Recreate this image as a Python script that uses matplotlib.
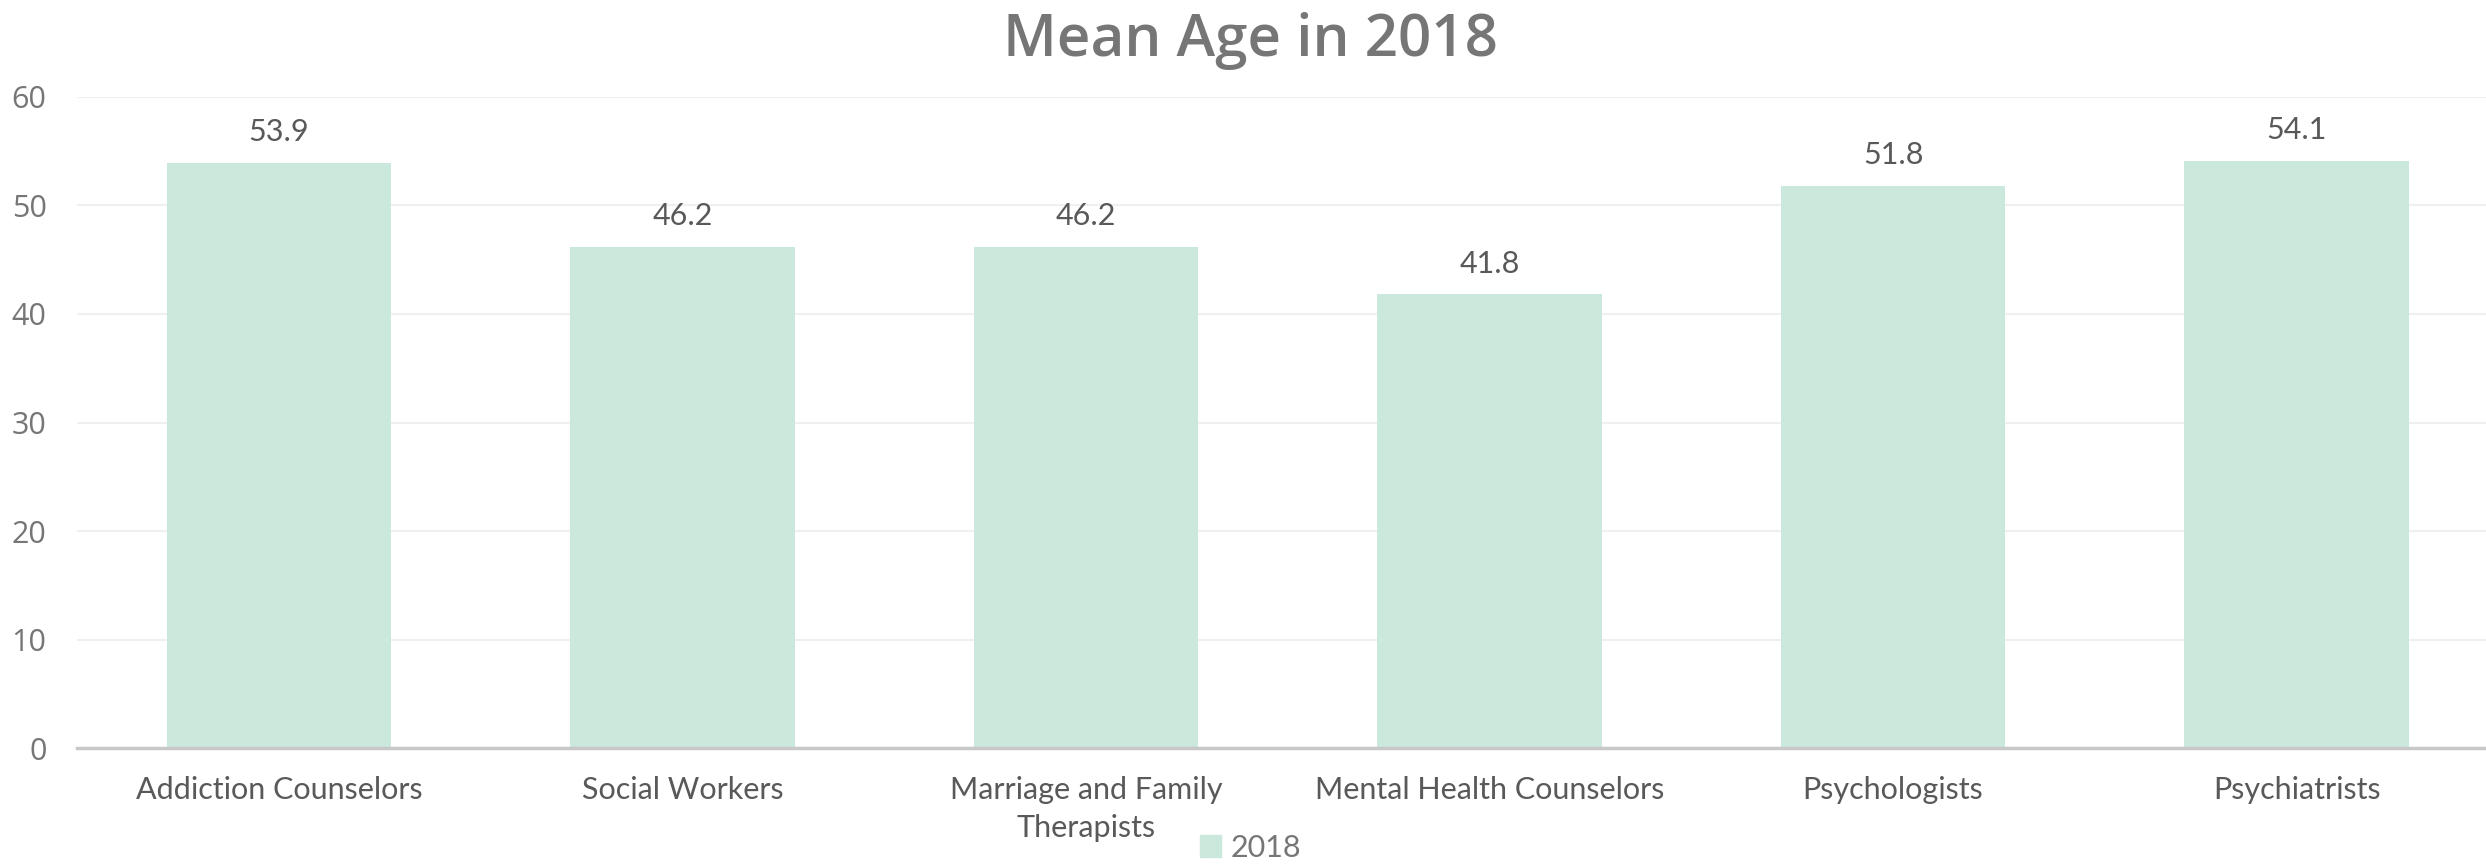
import matplotlib
matplotlib.use('Agg')
import matplotlib.pyplot as plt
from matplotlib.patches import Patch

categories = ['Addiction Counselors', 'Social Workers', 'Marriage and Family\nTherapists',
              'Mental Health Counselors', 'Psychologists', 'Psychiatrists']
mean_age = [53.9, 46.2, 46.2, 41.8, 51.8, 54.1]
y_ticks = [0, 10, 20, 30, 40, 50, 60]
series_name = '2018'

narrow = 'Lato'
bar_color = '#cbe8dc'

fig = plt.figure(figsize=(24.86, 8.65), dpi=100)
# plot area runs slightly past the right edge, like the source
ax = fig.add_axes([0.031, 0.135, 0.974, 0.753])

x = list(range(len(categories)))
bars = ax.bar(x, mean_age, width=0.556, color=bar_color, zorder=2)

for b, v in zip(bars, mean_age):
    ax.annotate(f'{v:.1f}', (b.get_x() + b.get_width() / 2, v),
                xytext=(0, 12), textcoords='offset points',
                ha='center', va='bottom', fontsize=22, color='#595959',
                family=narrow)

ax.set_xlim(-0.5, len(categories) - 0.5)
ax.set_ylim(0, 60)
ax.set_yticks(y_ticks)
ax.set_xticks(x)
ax.set_xticklabels(categories, family=narrow, fontsize=22, color='#595959',
                   linespacing=1.45)
ax.tick_params(axis='x', length=0, pad=20)
ax.tick_params(axis='y', length=0, pad=22, labelsize=22, labelcolor='#767676')
for lbl in ax.get_yticklabels():
    lbl.set_family('Open Sans')

ax.yaxis.grid(True, color='#f0f0f0', linewidth=1.5, zorder=0)
for s in ['top', 'right', 'left']:
    ax.spines[s].set_visible(False)
ax.spines['bottom'].set_color('#c8c8c8')
ax.spines['bottom'].set_linewidth(2.5)
ax.spines['bottom'].set_zorder(3)

fig.text(0.503, 0.953, 'Mean Age in 2018', ha='center', va='center',
         fontsize=42, color='#767676', family='Open Sans', weight='semibold')

fig.legend(handles=[Patch(color=bar_color, label=series_name)],
           loc='center', bbox_to_anchor=(0.503, 0.02), frameon=False,
           prop={'family': narrow, 'size': 22}, labelcolor='#767676',
           handlelength=0.7, handleheight=0.7, handletextpad=0.3)

fig.savefig('out.png', dpi=100)
